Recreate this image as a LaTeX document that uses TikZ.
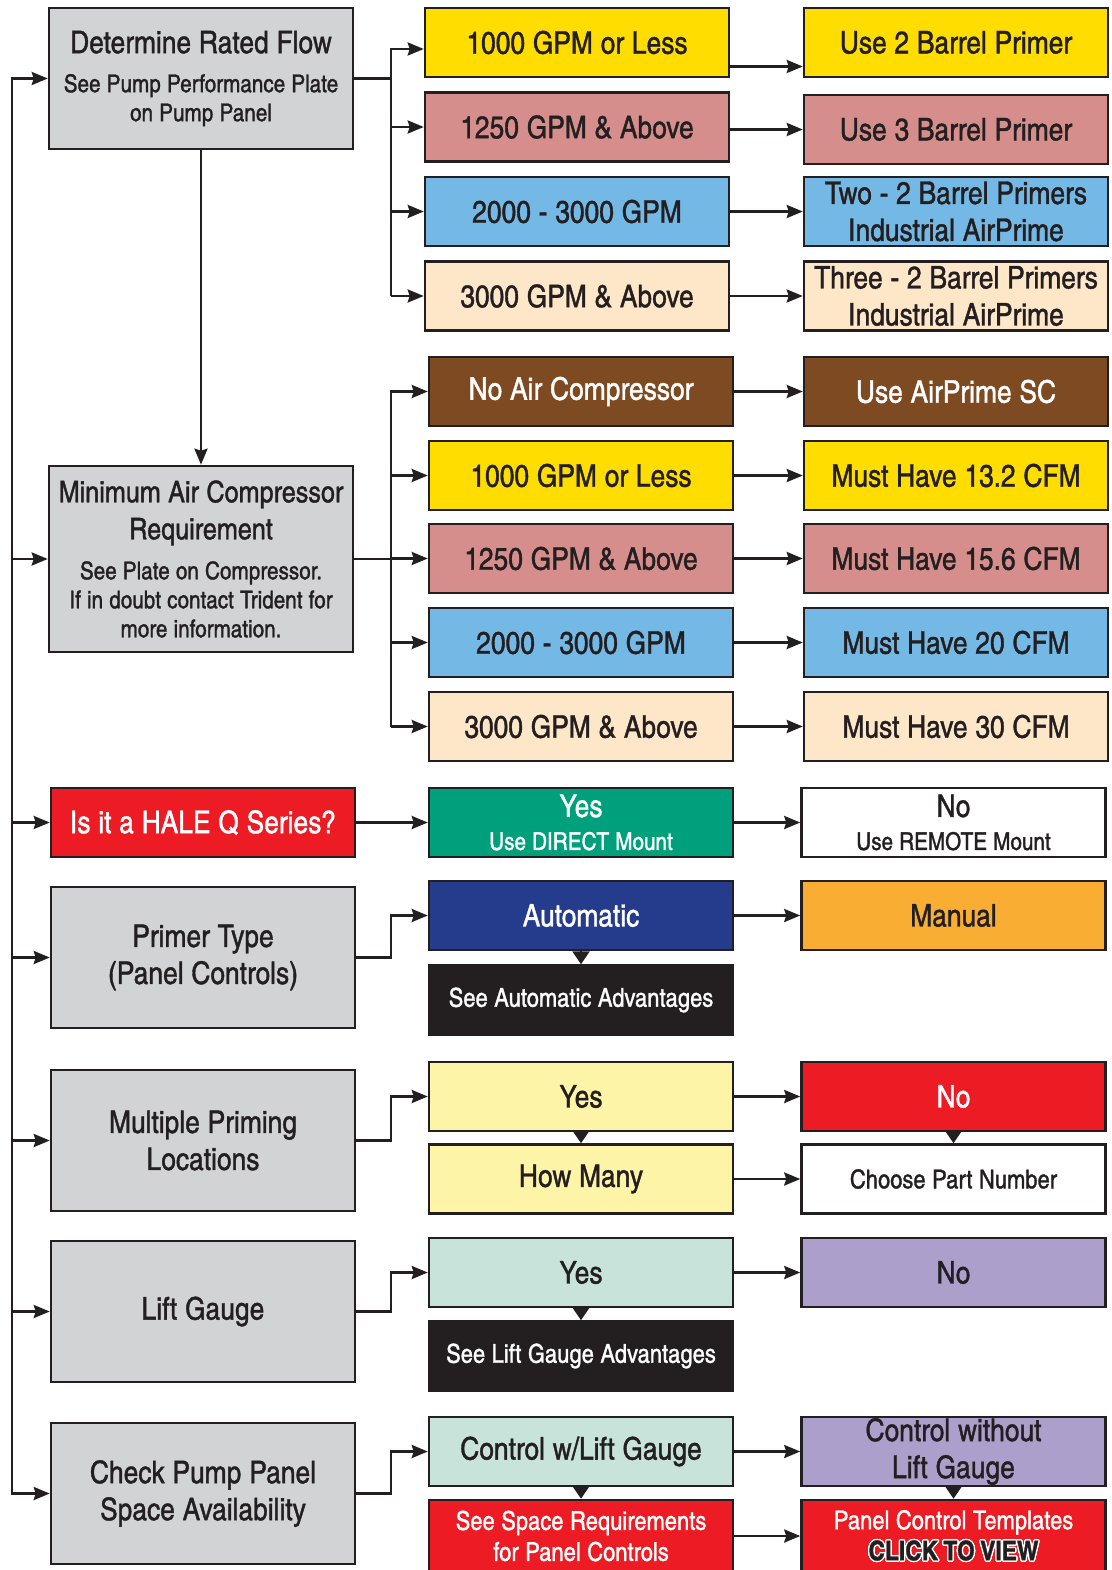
\documentclass[tikz,border=0pt]{standalone}
\usepackage{fontspec}
\setmainfont{texgyreheroscn-regular.otf}[BoldFont=texgyreheroscn-bold.otf, FakeStretch=1.03, FakeBold=1.2]
\usepackage{contour}
\contourlength{1.3pt}
\usetikzlibrary{arrows.meta,calc}
\definecolor{ink}{HTML}{231F20}
\definecolor{cgray}{HTML}{D1D3D4}
\definecolor{cyel}{HTML}{FFDD00}
\definecolor{cpink}{HTML}{D68E8C}
\definecolor{cblue}{HTML}{74B9E6}
\definecolor{cpeach}{HTML}{FEE6C8}
\definecolor{cbrown}{HTML}{7E4A21}
\definecolor{cgreen}{HTML}{00A07C}
\definecolor{cred}{HTML}{ED1C24}
\definecolor{cnavy}{HTML}{253C8D}
\definecolor{corange}{HTML}{F9AE33}
\definecolor{clyel}{HTML}{FEF4A8}
\definecolor{clgreen}{HTML}{C8E3DA}
\definecolor{cpurple}{HTML}{AC9FCB}
\newcommand\ftA{\fontsize{31.2}{37}\selectfont\spaceskip=0.25em\relax}
\newcommand\ftAs{\fontsize{29.8}{37}\selectfont\spaceskip=0.25em\relax}
\newcommand\ftB{\fontsize{24.5}{29}\selectfont\spaceskip=0.25em\relax}
\newcommand\ftC{\fontsize{26}{31}\selectfont\spaceskip=0.25em\relax}
\newcommand\ftD{\fontsize{27}{31}\selectfont\spaceskip=0.2em\relax}
\tikzset{
  box/.style={draw=ink, line width=2.5pt, minimum width=304pt, minimum height=69pt,
    inner ysep=0pt, inner xsep=-15pt, text width=334pt, align=center, font=\ftA,
    execute at begin node=\ftA, text=ink},
  sm/.style={font=\ftC, execute at begin node=\ftC},
  gbox/.style={box, fill=cgray, minimum height=141pt},
  ln/.style={draw=ink, line width=2.5pt, line join=miter},
  arr/.style={ln, -{Stealth[length=16pt,width=13pt,inset=2pt]}},
  tri/.style={ln, -{Triangle[length=13pt,width=17pt]}}
}
\begin{document}
\begin{tikzpicture}[x=1pt,y=-1pt]
\path[use as bounding box, fill=white] (0,0) rectangle (1111,1570);

% left column
\node[gbox] (drf) at (201,78.5) {{\ftA Determine Rated Flow\par}\vspace{10pt}{\ftB See Pump Performance Plate\\on Pump Panel\par}};
\node[gbox, minimum height=186pt] (mac) at (201,559) {{\ftAs Minimum Air Compressor\\Requirement\par}\vspace{11pt}{\ftB See Plate on Compressor.\\If in doubt contact Trident for\\more information.\par}};
\node[box, fill=cred, text=white] (hale) at (203,822.5) {Is it a HALE Q Series?};
\node[gbox] (ptype) at (203,957.5) {Primer Type\\(Panel Controls)};
\node[gbox] (mpl) at (203,1140.5) {Multiple Priming\\Locations};
\node[gbox] (lg) at (203,1311.5) {Lift Gauge};
\node[gbox] (cpp) at (203,1493.5) {Check Pump Panel\\Space Availability};

% group 1
\node[box, fill=cyel] (g1a) at (577,42.5) {1000 GPM or Less};
\node[box, fill=cpink] (g1b) at (577,127) {1250 GPM \& Above};
\node[box, fill=cblue] (g1c) at (577,211.5) {2000 - 3000 GPM};
\node[box, fill=cpeach] (g1d) at (577,296) {3000 GPM \& Above};
\node[box, fill=cyel] (r1a) at (956,42.5) {Use 2 Barrel Primer};
\node[box, fill=cpink] (r1b) at (956,129.5) {Use 3 Barrel Primer};
\node[box, fill=cblue] (r1c) at (956,211.5) {Two - 2 Barrel Primers\\Industrial AirPrime};
\node[box, fill=cpeach] (r1d) at (956,296) {Three - 2 Barrel Primers\\Industrial AirPrime};

% group 2
\node[box, fill=cbrown, text=white] (g2a) at (581,391.5) {No Air Compressor};
\node[box, fill=cyel] (g2b) at (581,475.5) {1000 GPM or Less};
\node[box, fill=cpink] (g2c) at (581,558.5) {1250 GPM \& Above};
\node[box, fill=cblue] (g2d) at (581,642.5) {2000 - 3000 GPM};
\node[box, fill=cpeach] (g2e) at (581,726.5) {3000 GPM \& Above};
\node[box, fill=cbrown, text=white] (r2a) at (956,391.5) {Use AirPrime SC};
\node[box, fill=cyel] (r2b) at (956,475.5) {Must Have 13.2 CFM};
\node[box, fill=cpink] (r2c) at (956,558.5) {Must Have 15.6 CFM};
\node[box, fill=cblue] (r2d) at (956,642.5) {Must Have 20 CFM};
\node[box, fill=cpeach] (r2e) at (956,726.5) {Must Have 30 CFM};

% HALE row
\node[box, fill=cgreen, text=white] (hyes) at (581,822.5) {Yes\\[-4pt]{\ftB Use DIRECT Mount}};
\node[box, fill=white] (hno) at (953.5,822.5) {No\\[-4pt]{\ftB Use REMOTE Mount}};

% primer row
\node[box, fill=cnavy, text=white] (auto) at (581,915.5) {Automatic};
\node[box, sm, fill=ink, text=white] (seeauto) at (581,1000) {See Automatic Advantages};
\node[box, fill=corange] (manual) at (953.5,915.5) {Manual};

% multiple row
\node[box, fill=clyel] (myes) at (581,1096.5) {Yes};
\node[box, fill=clyel] (many) at (581,1179) {How Many};
\node[box, fill=cred, text=white] (mno) at (953.5,1096.5) {No};
\node[box, sm, fill=white] (choose) at (953.5,1179) {Choose Part Number};

% lift row
\node[box, fill=clgreen] (lyes) at (581,1272.5) {Yes};
\node[box, sm, fill=ink, text=white] (seelg) at (581,1356) {See Lift Gauge Advantages};
\node[box, fill=cpurple] (lno) at (953.5,1272.5) {No};

% check row
\node[box, fill=clgreen] (ctrl) at (581,1451.5) {Control w/Lift Gauge};
\node[box, sm, fill=cred, text=white, minimum height=72pt] (space) at (581,1536) {See Space Requirements\\for Panel Controls};
\node[box, fill=cpurple] (wout) at (953.5,1451.5) {Control without\\Lift Gauge};
\node[box, sm, fill=cred, text=white, minimum height=72pt] (tmpl) at (953.5,1536) {Panel Control Templates\\{\ftD\bfseries\contour{white}{\color{ink}CLICK TO VIEW}}};

% trunk
\coordinate (ttop) at (12,78.5);
\coordinate (tbot) at (12,1493.5);
\draw[arr] (tbot) -- (ttop) -- (drf.west);
\draw[arr] (ttop |- mac.west) -- (tbot) -- (cpp.west);
\draw[arr] (ttop |- mac.west) -- (mac.west);
\draw[arr] (ttop |- hale.west) -- (hale.west);
\draw[arr] (ttop |- ptype.west) -- (ptype.west);
\draw[arr] (ttop |- mpl.west) -- (mpl.west);
\draw[arr] (ttop |- lg.west) -- (lg.west);
\draw[arr] (drf.south) -- (drf.south |- mac.north);

% branch 1
\coordinate (b1top) at (391,49);
\coordinate (b1bot) at (391,296);
\draw[ln] (drf.east) -- (drf.east -| b1top);
\draw[arr] (b1bot) -- (b1top) -- (b1top -| g1a.west);
\draw[arr] (b1top |- g1b.west) -- (g1b.west);
\draw[arr] (b1top |- g1c.west) -- (g1c.west);
\draw[arr] (b1bot) -- (g1d.west);
\coordinate (g1aout) at ($(g1a.east)+(0,24)$);
\draw[arr] (g1aout) -- (g1aout -| r1a.west);
\draw[arr] (g1b.east |- r1b.west) -- (r1b.west);
\draw[arr] (g1c.east) -- (r1c.west);
\draw[arr] (g1d.east) -- (r1d.west);

% branch 2
\coordinate (b2top) at (391,391.5);
\coordinate (b2bot) at (391,726.5);
\draw[ln] (mac.east) -- (mac.east -| b2top);
\draw[arr] (b2bot) -- (b2top) -- (g2a.west);
\draw[arr] (b2top |- g2b.west) -- (g2b.west);
\draw[arr] (b2top |- g2c.west) -- (g2c.west);
\draw[arr] (b2top |- g2d.west) -- (g2d.west);
\draw[arr] (b2bot) -- (g2e.west);
\draw[arr] (g2a.east) -- (r2a.west);
\draw[arr] (g2b.east) -- (r2b.west);
\draw[arr] (g2c.east) -- (r2c.west);
\draw[arr] (g2d.east) -- (r2d.west);
\draw[arr] (g2e.east) -- (r2e.west);

% HALE
\draw[arr] (hale.east) -- (hyes.west);
\draw[arr] (hyes.east) -- (hno.west);

% primer
\draw[arr] (ptype.east) -- (ptype.east -| b1top) |- (auto.west);
\draw[arr] (auto.east) -- (manual.west);
\draw[tri] (auto.south) -- (seeauto.north);

% multiple
\draw[arr] (mpl.east) -- (mpl.east -| b1top) |- (myes.west);
\draw[arr] (myes.east) -- (mno.west);
\draw[arr] (many.east) -- (choose.west);
\draw[tri] (myes.south) -- (many.north);
\draw[tri] (mno.south) -- (choose.north);

% lift
\draw[arr] (lg.east) -- (lg.east -| b1top) |- (lyes.west);
\draw[arr] (lyes.east) -- (lno.west);
\draw[tri] (lyes.south) -- (seelg.north);

% check
\draw[arr] (cpp.east) -- (cpp.east -| b1top) |- (ctrl.west);
\draw[arr] (ctrl.east) -- (wout.west);
\draw[arr] (space.east) -- (tmpl.west);
\draw[tri] (ctrl.south) -- (space.north);
\draw[tri] (wout.south) -- (tmpl.north);
\end{tikzpicture}
\end{document}
